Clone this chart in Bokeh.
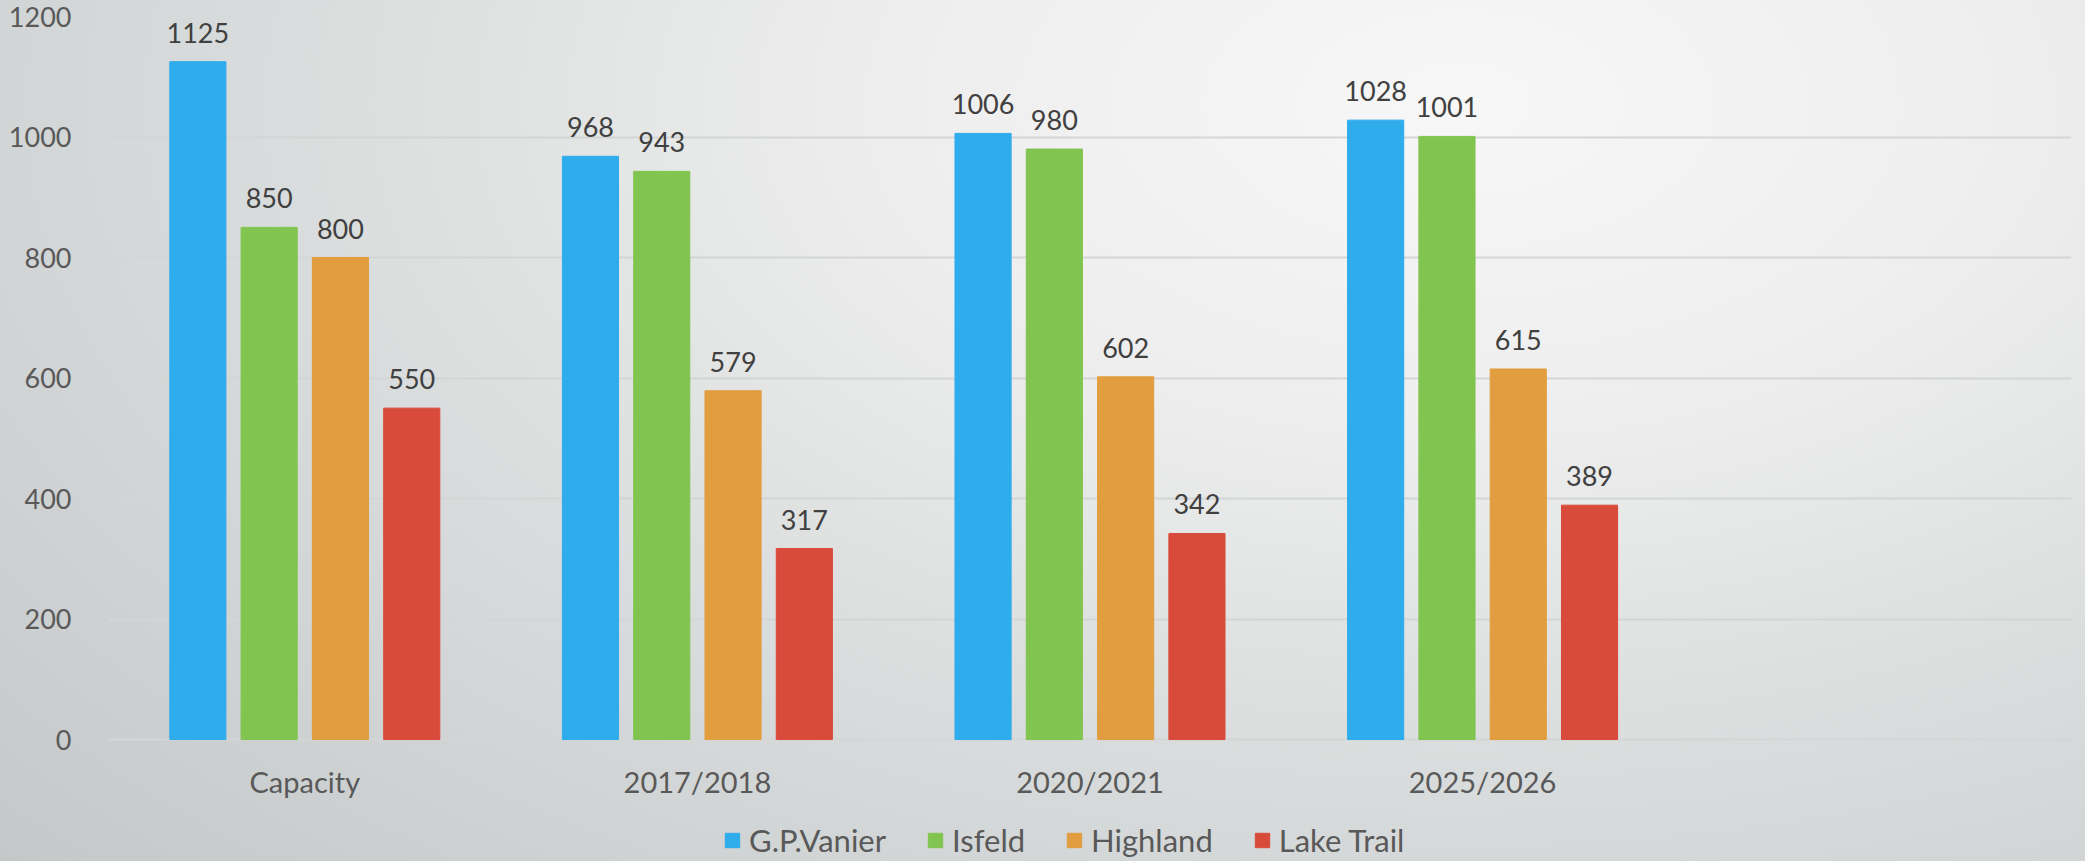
from bokeh.plotting import figure
from bokeh.models import ColumnDataSource, FactorRange, Range1d, Legend, LegendItem, FixedTicker
from bokeh.transform import dodge
from bokeh.core.properties import value
from bokeh.embed import file_html
from bokeh.resources import INLINE

# ---- data ----
categories = ["Capacity", "2017/2018", "2020/2021", "2025/2026"]
axis_factors = categories + [" "]
series_names = ["G.P.Vanier", "Isfeld", "Highland", "Lake Trail"]
vanier = [1125, 968, 1006, 1028]
isfeld = [850, 943, 980, 1001]
highland = [800, 579, 602, 615]
lake_trail = [550, 317, 342, 389]
y_ticks = [0, 200, 400, 600, 800, 1000, 1200]

colors = ["#2FACEB", "#82C450", "#E29D3F", "#D84B3B"]
series_values = [vanier, isfeld, highland, lake_trail]
offsets = [-0.2724, -0.0908, 0.0908, 0.2724]
FONT = "Lato"

src = ColumnDataSource(dict(
    cat=categories,
    zero=[0] * len(categories),
    **{f"s{i}": v for i, v in enumerate(series_values)},
    **{f"l{i}": [str(x) for x in v] for i, v in enumerate(series_values)},
))

# frame runs to the bottom edge so the legend can sit inside it
p = figure(width=2085, height=861, x_range=FactorRange(factors=axis_factors),
           y_range=Range1d(-202.4, 1200), output_backend="svg", toolbar_location=None,
           min_border_left=108, min_border_right=14, min_border_top=16, min_border_bottom=0)

p.styles = {"background": "radial-gradient(ellipse 95% 130% at 70% 12%, #f7f7f7 0%, #eeeeee 28%, #d9dcdc 60%, #c4c8c9 100%)"}
p.background_fill_color = None
p.border_fill_color = None
p.outline_line_color = None

items = []
for i, name in enumerate(series_names):
    r = p.vbar(x=dodge("cat", offsets[i], range=p.x_range), top=f"s{i}", width=0.143,
               source=src, fill_color=colors[i], line_color=colors[i], line_width=1)
    p.text(x=dodge("cat", offsets[i], range=p.x_range), y=f"s{i}", text=f"l{i}", source=src,
           text_align="center", text_baseline="alphabetic", y_offset=-29,
           text_font=value(FONT), text_font_size="27px", text_color="#404040")
    items.append(LegendItem(label=name, renderers=[r]))

# category labels under the baseline
p.text(x="cat", y="zero", text="cat", source=src, text_align="center",
       text_baseline="alphabetic", y_offset=42, text_font=value(FONT),
       text_font_size="29px", text_color="#595959")

# axes
p.xaxis.visible = False
p.yaxis.ticker = FixedTicker(ticks=y_ticks)
p.yaxis.axis_line_color = None
p.yaxis.major_tick_line_color = None
p.yaxis.minor_tick_line_color = None
p.yaxis.major_label_standoff = 31
p.yaxis.major_label_text_font = FONT
p.yaxis.major_label_text_font_size = "27px"
p.yaxis.major_label_text_color = "#595959"

p.xgrid.grid_line_color = None
p.ygrid.grid_line_color = "#D3D5D6"
p.ygrid.grid_line_width = 2

legend = Legend(items=items, orientation="horizontal", location=(615, 2),
                glyph_width=18, glyph_height=18, label_standoff=8, spacing=40,
                label_text_font=FONT, label_text_font_size="31px", label_text_color="#595959",
                border_line_color=None, background_fill_alpha=0, padding=0, margin=0)
p.add_layout(legend, "center")

open("out.html", "w").write(file_html(p, INLINE))
